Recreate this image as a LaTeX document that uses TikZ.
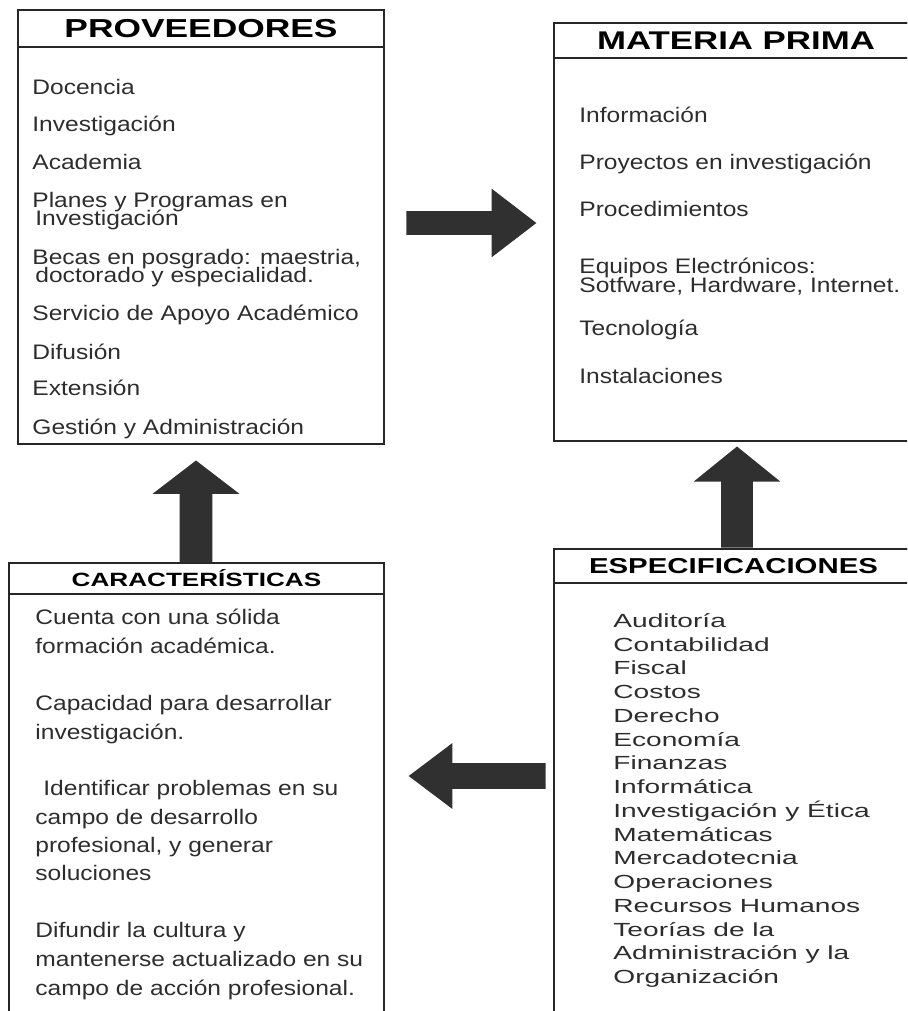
\documentclass[tikz,border=0pt]{standalone}
\usepackage{fontspec}
\setmainfont{Liberation Sans}
\newfontfamily\txtfont[FakeStretch=1.17]{Liberation Sans}
\newfontfamily\espfont[FakeStretch=1.48]{Liberation Sans}
\newfontfamily\headfont[FakeStretch=1.36]{Liberation Sans}
\usetikzlibrary{positioning,shapes.arrows}

\definecolor{inkgray}{RGB}{45,45,45}
\definecolor{arrowgray}{RGB}{48,48,48}

\tikzset{
  box/.style={draw=black!85, line width=1pt, anchor=north west, inner sep=0pt},
  head/.style={box, text=black},
  item/.style={anchor=west, inner sep=0pt, text height=7.5pt, text depth=0pt,
    font=\txtfont\fontsize{10.5}{12}\selectfont, text=inkgray},
  espitem/.style={item, text height=6.8pt, font=\espfont\fontsize{9.5}{11}\selectfont},
  blockarrow/.style={single arrow, fill=arrowgray, draw=none, inner sep=0pt, text depth=0pt},
}

\begin{document}
\begin{tikzpicture}[x=0.5pt,y=-0.5pt]

    \useasboundingbox (0,0) rectangle (907,1011);
    \clip (0,0) rectangle (907,1011);

    % cajas
    \node[box, minimum width=183pt, minimum height=217pt] (prov) at (17,9) {};
    \node[head, minimum width=183pt, minimum height=18.5pt,
      font=\headfont\bfseries\fontsize{13}{14}\selectfont] (provh) at (17,9) {PROVEEDORES};

    \node[box, minimum width=182pt, minimum height=209pt] (mat) at (553,22) {};
    \node[head, minimum width=182pt, minimum height=17.5pt,
      font=\headfont\bfseries\fontsize{12.8}{14}\selectfont] (math) at (553,22) {MATERIA PRIMA};

    \node[box, minimum width=187.5pt, minimum height=240pt] (car) at (8,562) {};
    \node[head, minimum width=187.5pt, minimum height=15.5pt,
      font=\headfont\bfseries\fontsize{9.6}{11}\selectfont] (carh) at (8,562) {CARACTERÍSTICAS};

    \node[box, minimum width=179.5pt, minimum height=240pt] (esp) at (553,548) {};
    \node[head, minimum width=179.5pt, minimum height=17pt,
      font=\headfont\bfseries\fontsize{10.8}{12}\selectfont] (esph) at (553,548) {ESPECIFICACIONES};

    % flechas
    \node[blockarrow, anchor=tip, minimum height=65pt, minimum width=34pt, text height=11.5pt,
      single arrow head extend=11.25pt, single arrow tip angle=75] (fprov) at (537,223) {};
    \node[blockarrow, anchor=tip, rotate=90, minimum height=50.5pt, minimum width=43pt, text height=15.5pt,
      single arrow head extend=13.75pt, single arrow tip angle=102] (fesp) at (737,446) {};
    \node[blockarrow, anchor=tip, rotate=180, minimum height=68.5pt, minimum width=32.5pt, text height=12.5pt,
      single arrow head extend=10pt, single arrow tip angle=74] (fcar) at (408,776) {};
    \node[blockarrow, anchor=tip, rotate=90, minimum height=51pt, minimum width=43pt, text height=16pt,
      single arrow head extend=13.5pt, single arrow tip angle=105] (fup) at (196,460) {};

    % proveedores
    \node[item] (p1) at (32,87) {Docencia};
    \node[item] (p2) at (32,124) {Investigación};
    \node[item] (p3) at (32,162) {Academia};
    \node[item] (p4) at (32,200) {Planes y Programas en};
    \node[item] (p5) at (35,218) {Investigación};
    \node[item] (p6) at (32,257) {Becas en posgrado: maestria,};
    \node[item] (p7) at (35,275) {doctorado y especialidad.};
    \node[item] (p8) at (32,313) {Servicio de Apoyo Académico};
    \node[item] (p9) at (32,352) {Difusión};
    \node[item] (p10) at (32,388) {Extensión};
    \node[item] (p11) at (32,427) {Gestión y Administración};

    % materia prima
    \node[item] (m1) at (579,115) {Información};
    \node[item] (m2) at (579,162) {Proyectos en investigación};
    \node[item] (m3) at (579,209) {Procedimientos};
    \node[item] (m4) at (579,266) {Equipos Electrónicos:};
    \node[item] (m5) at (579,285) {Sotfware, Hardware, Internet.};
    \node[item] (m6) at (579,328) {Tecnología};
    \node[item] (m7) at (579,376) {Instalaciones};

    % caracteristicas
    \node[item] (c1) at (35,617) {Cuenta con una sólida};
    \node[item] (c2) at (35,646) {formación académica.};
    \node[item] (c3) at (35,703) {Capacidad para desarrollar};
    \node[item] (c4) at (35,732) {investigación.};
    \node[item] (c5) at (43,788) {Identificar problemas en su};
    \node[item] (c6) at (35,817) {campo de desarrollo};
    \node[item] (c7) at (35,845) {profesional, y generar};
    \node[item] (c8) at (35,873) {soluciones};
    \node[item] (c9) at (35,930) {Difundir la cultura y};
    \node[item] (c10) at (35,959) {mantenerse actualizado en su};
    \node[item] (c11) at (35,988) {campo de acción profesional.};

    % especificaciones
    \node[espitem] (e1) at (613,621) {Auditoría};
    \node[espitem] (e2) at (613,645) {Contabilidad};
    \node[espitem] (e3) at (613,668) {Fiscal};
    \node[espitem] (e4) at (613,692) {Costos};
    \node[espitem] (e5) at (613,716) {Derecho};
    \node[espitem] (e6) at (613,740) {Economía};
    \node[espitem] (e7) at (613,763) {Finanzas};
    \node[espitem] (e8) at (613,787) {Informática};
    \node[espitem] (e9) at (613,811) {Investigación y Ética};
    \node[espitem] (e10) at (613,835) {Matemáticas};
    \node[espitem] (e11) at (613,858) {Mercadotecnia};
    \node[espitem] (e12) at (613,882) {Operaciones};
    \node[espitem] (e13) at (613,906) {Recursos Humanos};
    \node[espitem] (e14) at (613,930) {Teorías de la};
    \node[espitem] (e15) at (613,953) {Administración y la};
    \node[espitem] (e16) at (613,977) {Organización};
  \end{tikzpicture}
\end{document}
